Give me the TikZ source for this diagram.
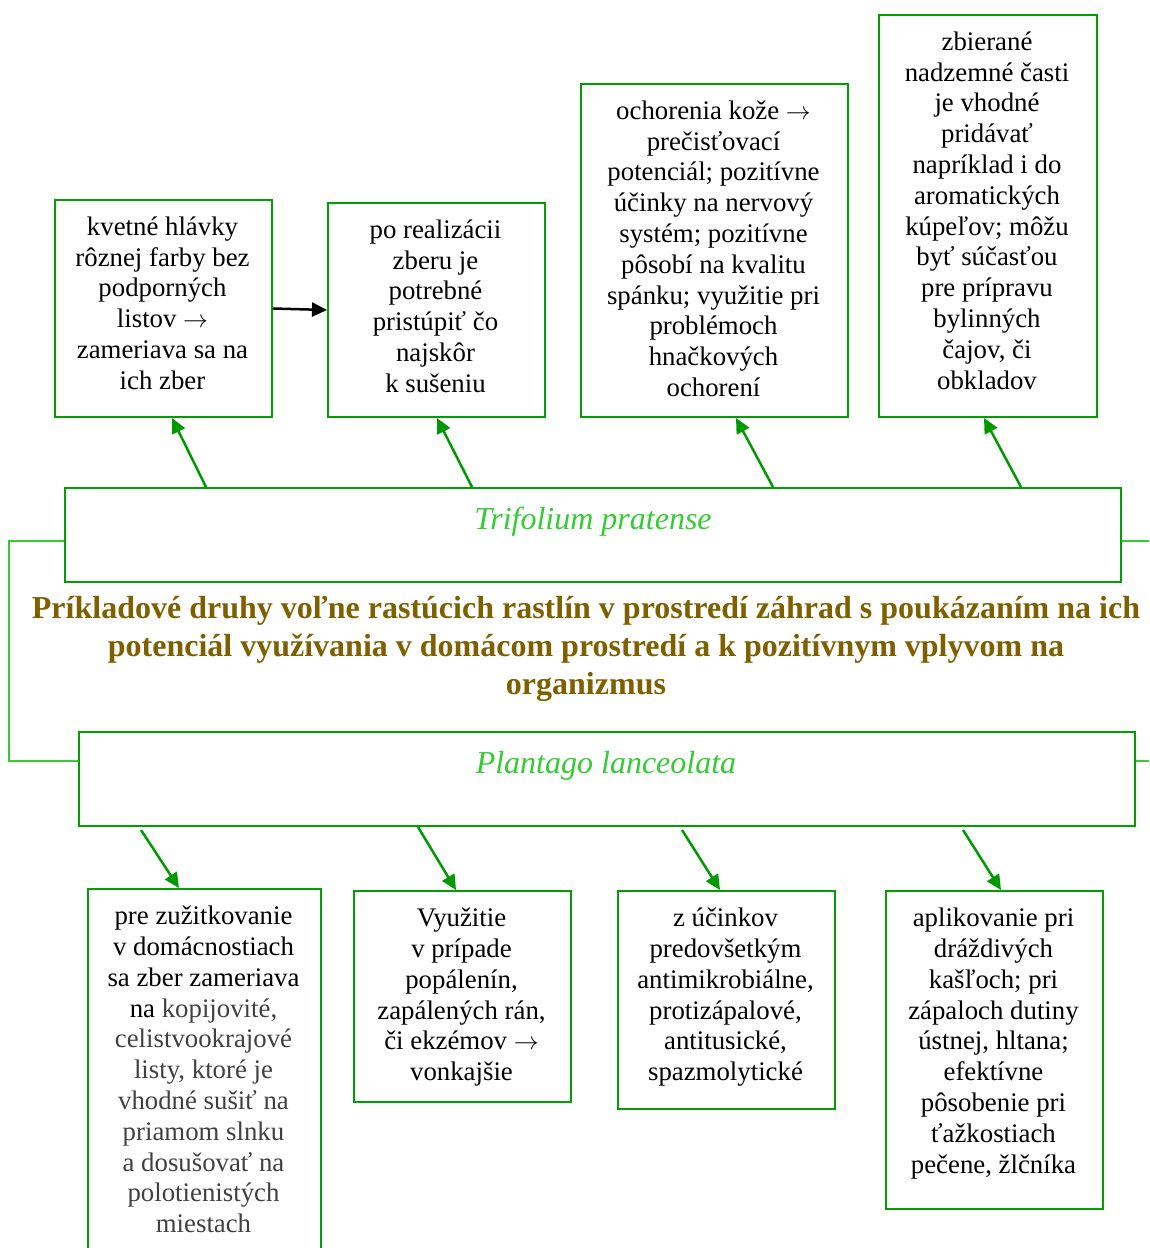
\documentclass[tikz,border=0pt]{standalone}
\usepackage{fontspec}
\setmainfont{Liberation Serif}
\usetikzlibrary{arrows.meta,calc}
\definecolor{boxgreen}{HTML}{00A000}
\definecolor{lightgreen}{HTML}{33CC33}
\definecolor{titlebrown}{HTML}{7F6000}
\definecolor{arrowgreen}{HTML}{009900}
\definecolor{graytext}{HTML}{404040}
\newcommand{\rarr}{$\rightarrow$}
\begin{document}
\begin{tikzpicture}[x=1pt,y=-1pt,
  box/.style={draw=boxgreen, line width=2pt, inner sep=0pt, anchor=north west, fill=none},
  txt/.style={anchor=north, inner sep=0pt, align=center, font=\fontsize{26.8}{30.8}\selectfont},
  lbl/.style={anchor=base, inner sep=0pt, text=lightgreen, font=\fontsize{32}{38}\selectfont\itshape},
  ttl/.style={anchor=north, inner sep=0pt, align=center, text=titlebrown, font=\fontsize{32}{38}\selectfont\bfseries},
  garrow/.style={draw=arrowgreen, line width=2.5pt, -{Triangle[length=15pt,width=14pt]}},
  barrow/.style={draw=black, line width=2.5pt, -{Triangle[length=15pt,width=14pt]}},
  conn/.style={draw=lightgreen, line width=2pt}]
\useasboundingbox (0,0) rectangle (1149,1248);
\clip (0,0) rectangle (1149,1248);

% top boxes
\node[box, minimum width=217pt, minimum height=217pt] (b1) at (54,199) {};
\node[box, minimum width=217pt, minimum height=214pt] (b2) at (327,202) {};
\node[box, minimum width=267pt, minimum height=333pt] (b3) at (580,83) {};
\node[box, minimum width=218pt, minimum height=402pt] (b4) at (878,14) {};

\node[txt] (t1) at (162.5,213.5) {\strut kvetné hlávky\\ rôznej farby bez\\ podporných\\ listov \rarr\\ zameriava sa na\\ ich zber};
\node[txt] (t2) at (435.5,216.5) {\strut po realizácii\\ zberu je\\ potrebné\\ pristúpiť čo\\ najskôr\\ k sušeniu};
\node[txt] (t3) at (713.5,97.5) {\strut ochorenia kože \rarr\\ prečisťovací\\ potenciál; pozitívne\\ účinky na nervový\\ systém; pozitívne\\ pôsobí na kvalitu\\ spánku; využitie pri\\ problémoch\\ hnačkových\\ ochorení};
\node[txt] (t4) at (987,28.5) {\strut zbierané\\ nadzemné časti\\ je vhodné\\ pridávať\\ napríklad i do\\ aromatických\\ kúpeľov; môžu\\ byť súčasťou\\ pre prípravu\\ bylinných\\ čajov, či\\ obkladov};

% species boxes
\node[box, minimum width=1056pt, minimum height=94pt] (trif) at (64,487) {};
\node[box, minimum width=1056pt, minimum height=94pt] (plan) at (78,731) {};
\node[lbl] (trifl) at (593,529) {Trifolium pratense};
\node[lbl] (planl) at (606,773.5) {Plantago lanceolata};

% title
\node[ttl] (title) at (586,592) {\strut Príkladové druhy voľne rastúcich rastlín v prostredí záhrad s poukázaním na ich\\ potenciál využívania v domácom prostredí a k pozitívnym vplyvom na\\ organizmus};

% bottom boxes
\node[box, minimum width=233pt, minimum height=400pt] (c1) at (87,888) {};
\node[box, minimum width=217pt, minimum height=211pt] (c2) at (353,890) {};
\node[box, minimum width=217pt, minimum height=218pt] (c3) at (617,890) {};
\node[box, minimum width=217pt, minimum height=318pt] (c4) at (885,890) {};

\node[txt] (u1) at (203.5,903) {\strut pre zužitkovanie\\ v domácnostiach\\ sa zber zameriava\\ na \textcolor{graytext}{kopijovité,}\\ \textcolor{graytext}{celistvookrajové}\\ \textcolor{graytext}{listy, ktoré je}\\ \textcolor{graytext}{vhodné sušiť na}\\ \textcolor{graytext}{priamom slnku}\\ \textcolor{graytext}{a dosušovať na}\\ \textcolor{graytext}{polotienistých}\\ \textcolor{graytext}{miestach}};
\node[txt] (u2) at (461.5,905) {\strut Využitie\\ v prípade\\ popálenín,\\ zapálených rán,\\ či ekzémov \rarr\\ vonkajšie};
\node[txt] (u3) at (725.5,905) {\strut z účinkov\\ predovšetkým\\ antimikrobiálne,\\ protizápalové,\\ antitusické,\\ spazmolytické};
\node[txt] (u4) at (993.5,905) {\strut aplikovanie pri\\ dráždivých\\ kašľoch; pri\\ zápaloch dutiny\\ ústnej, hltana;\\ efektívne\\ pôsobenie pri\\ ťažkostiach\\ pečene, žlčníka};

% connectors between species boxes
\coordinate (r1) at (1149,541);
\coordinate (r2) at (1149,761);
\draw[conn] ($(trif.north west)+(0,54)$) -- ++(-55,0) |- ($(plan.north west)+(0,30)$);
\draw[conn] ($(trif.north east)+(0,54)$) -- (r1);
\draw[conn] ($(plan.north east)+(0,30)$) -- (r2);

% arrows up
\draw[garrow] ($(trif.north west)+(142,0)$) -- ($(b1.south west)+(118,0)$);
\draw[garrow] ($(trif.north west)+(408,0)$) -- ($(b2.south west)+(110,0)$);
\draw[garrow] ($(trif.north west)+(709,0)$) -- ($(b3.south west)+(156,0)$);
\draw[garrow] ($(trif.north west)+(957,0)$) -- ($(b4.south west)+(106,0)$);

% black arrow
\draw[barrow] (b1.east) -- (b2.west);

% arrows down
\draw[garrow] ($(plan.south west)+(63,3)$) -- ($(c1.north west)+(92,0)$);
\draw[garrow] ($(plan.south west)+(340,0)$) -- ($(c2.north west)+(103,0)$);
\draw[garrow] ($(plan.south west)+(604,3)$) -- ($(c3.north west)+(103,0)$);
\draw[garrow] ($(plan.south west)+(885,3)$) -- ($(c4.north west)+(116,0)$);
\end{tikzpicture}
\end{document}
